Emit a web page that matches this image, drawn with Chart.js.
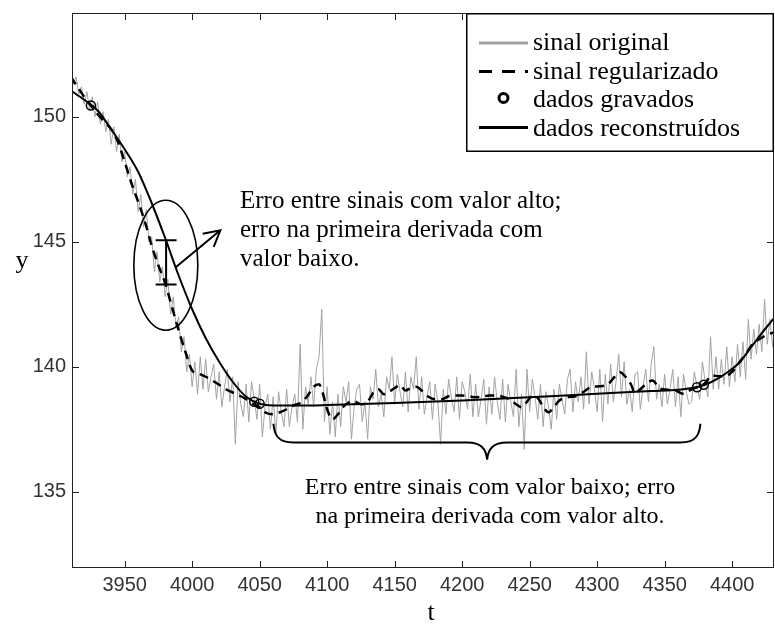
<!DOCTYPE html>
<html>
<head>
<meta charset="utf-8">
<script src="https://cdn.jsdelivr.net/npm/chart.js@4"></script>
<style>
  html, body { margin: 0; padding: 0; background: #fff; }
  canvas { display: block; }
</style>
</head>
<body>
<canvas id="chart" width="775" height="625"></canvas>
<script>
// axis ticks
const xTicks = [3950, 4000, 4050, 4100, 4150, 4200, 4250, 4300, 4350, 4400];
const yTicks = [135, 140, 145, 150];

// sinal original (sampled every 2 units of t, starting at 3910)
const origT0 = 3910;
const origStep = 2;
const origY = [
  152.5, 151.3, 151.6, 150.9, 151.2, 150.5, 151.0, 150.3, 150.8, 150.0,
  150.6, 149.7, 150.2, 149.4, 149.9, 148.9, 149.6, 148.6, 149.3, 148.2,
  148.6, 147.6, 148.0, 146.9, 147.5, 146.2, 146.9, 145.6, 146.3, 145.0,
  145.2, 143.8, 144.6, 143.4, 144.0, 142.8, 143.5, 142.1, 142.8, 141.6,
  142.0, 140.6, 141.2, 139.8, 140.5, 139.2, 140.2, 138.9, 140.4, 139.1,
  140.3, 139.0, 139.6, 140.1, 138.7, 139.8, 138.4, 139.2, 139.9, 138.6,
  139.6, 136.9, 139.4, 138.5, 138.0, 139.3, 137.8, 139.4, 138.7, 137.9,
  139.3, 137.2, 138.4, 138.9, 137.5, 138.8, 137.3, 139.0, 138.2, 137.6,
  139.1, 137.6, 138.4, 138.9, 137.8, 140.9, 137.5, 139.2, 138.5, 139.6,
  138.4, 139.9, 140.4, 142.3, 137.8, 139.2, 137.3, 138.6, 137.2, 138.9,
  137.6, 139.2, 138.6, 139.4, 137.1, 138.4, 139.1, 139.3, 137.8, 138.6,
  137.1, 139.2, 138.7, 139.9, 138.4, 138.9, 138.0, 139.6, 139.1, 140.4,
  138.5, 139.7, 139.0, 138.4, 139.8, 138.2, 139.6, 139.1, 140.4, 138.3,
  139.6, 138.1, 138.8, 139.4, 137.9, 139.3, 138.6, 136.9, 139.1, 138.1,
  139.5, 138.8, 138.2, 139.6, 137.9, 139.4, 139.0, 138.3, 139.7, 138.0,
  139.3, 138.0, 138.7, 139.5, 137.7, 139.2, 138.1, 139.6, 138.6, 137.9,
  139.5, 137.8, 139.3, 138.6, 138.0, 139.9, 137.6, 138.9, 136.7, 139.9,
  138.2, 139.5, 138.8, 137.9, 139.3, 137.6, 139.0, 138.4, 137.5, 139.1,
  137.9, 139.3, 138.7, 138.1, 139.5, 139.9, 138.2, 139.4, 138.6, 139.6,
  138.3, 140.6, 138.5, 139.8, 139.1, 138.2, 139.9, 137.8, 139.7, 138.5,
  140.1, 138.6, 139.4, 140.5, 138.8, 140.2, 138.5, 139.1, 138.2, 139.7,
  139.8, 138.3, 139.2, 139.9, 138.6, 140.1, 140.8, 138.7, 139.3, 138.4,
  139.7, 138.5, 139.1, 139.9, 138.4, 139.6, 138.0, 139.7, 139.0, 138.5,
  138.6, 139.8, 139.2, 138.7, 140.2, 139.4, 138.8, 141.2, 139.1, 140.4,
  139.1, 140.3, 139.3, 140.8, 139.2, 140.4, 139.4, 140.9, 139.6, 141.0,
  139.5, 141.9, 140.3, 141.5, 140.5, 141.7, 140.6, 142.7, 140.9, 141.9, 140.8, 141.8
];

// sinal regularizado
const regT = [
  3910, 3915, 3920, 3925, 3930, 3935, 3940, 3945, 3950, 3955,
  3960, 3965, 3970, 3975, 3980, 3985, 3990, 3995, 4000, 4005,
  4010, 4015, 4020, 4025, 4030, 4035, 4040, 4045, 4050, 4055,
  4060, 4065, 4070, 4075, 4080, 4085, 4090, 4094, 4097, 4100,
  4104, 4108, 4112, 4116, 4120, 4125, 4130, 4134, 4138, 4142,
  4146, 4150, 4154, 4158, 4162, 4166, 4170, 4175, 4180, 4185,
  4190, 4195, 4200, 4205, 4210, 4215, 4220, 4225, 4230, 4235,
  4240, 4244, 4248, 4252, 4256, 4260, 4264, 4268, 4272, 4278,
  4284, 4290, 4296, 4302, 4308, 4313, 4317, 4321, 4325, 4328,
  4332, 4336, 4341, 4346, 4352, 4358, 4364, 4370, 4375, 4380,
  4385, 4390, 4395, 4400, 4405, 4410, 4415, 4420, 4425, 4432
];
const regY = [
  151.6, 151.2, 150.8, 150.45, 150.1, 149.8, 149.5, 149.0, 148.2, 147.35,
  146.6, 145.8, 144.85, 144.05, 143.35, 142.4, 141.45, 140.6, 139.85, 139.72,
  139.6, 139.45, 139.28, 139.1, 138.97, 138.85, 138.7, 138.52, 138.38, 138.15,
  138.1, 138.18, 138.3, 138.45, 138.55, 138.8, 139.2, 139.3, 138.9, 138.3,
  137.9, 138.1, 138.4, 138.58, 138.62, 138.5, 138.6, 138.95, 139.1, 138.9,
  139.0, 139.15, 139.27, 139.05, 139.15, 139.2, 139.05, 138.8, 138.7, 138.7,
  138.82, 138.85, 138.85, 138.82, 138.78, 138.8, 138.85, 138.85, 138.8, 138.7,
  138.5, 138.38, 138.6, 138.85, 138.75, 138.4, 138.18, 138.4, 138.65, 138.78,
  138.82, 139.0, 139.2, 139.22, 139.3, 139.6, 139.78, 139.6, 139.3, 138.95,
  139.1, 139.3, 139.45, 139.15, 139.08, 139.05, 138.92, 139.1, 139.2, 139.35,
  139.65, 139.62, 139.62, 139.8, 140.15, 140.5, 140.9, 141.1, 141.25, 141.4
];

// dados reconstruidos
const recT = [3910, 3920, 3930, 3940, 3950, 3960, 3970, 3980, 3990, 4000,
  4010, 4020, 4030, 4040, 4050, 4060, 4080, 4100, 4150, 4200,
  4250, 4300, 4340, 4360, 4375, 4385, 4395, 4405, 4415, 4425, 4432];
const recY = [151.05, 150.68, 150.25, 149.5, 148.7, 147.8, 146.55, 145.15, 143.65, 142.3,
  141.15, 140.2, 139.4, 138.8, 138.52, 138.45, 138.45, 138.47, 138.55, 138.65,
  138.78, 138.92, 139.03, 139.08, 139.2, 139.4, 139.72, 140.15, 140.85, 141.55, 142.0];

// dados gravados
const savedT = [3925, 4046, 4050, 4374, 4379];
const savedY = [150.45, 138.6, 138.52, 139.18, 139.28];

const legendLabels = ['sinal original', 'sinal regularizado', 'dados gravados', 'dados reconstruídos'];
const noteHigh = ['Erro entre sinais com valor alto;', 'erro na primeira derivada com', 'valor baixo.'];
const noteLow = ['Erro entre sinais com valor baixo; erro', 'na primeira derivada com valor alto.'];

const serif = '"Liberation Serif", "Times New Roman", serif';
const sans = '"Liberation Sans", Arial, sans-serif';

const toPoints = (ts, ys) => ts.map((t, i) => ({ x: t, y: ys[i] }));
const origData = origY.map((v, i) => ({ x: origT0 + i * origStep, y: v }));

// fixed axis sizes so the plot box lands where the reference has it
function fixScale(s, size) {
  if (s.isHorizontal()) s.height = size; else s.width = size;
  s.paddingTop = 0; s.paddingBottom = 0; s.paddingLeft = 0; s.paddingRight = 0;
}

// frame, inward ticks, legend box and the annotations
const decor = {
  id: 'decor',
  afterDraw(chart) {
    const { ctx, chartArea: a, scales: { x, y } } = chart;
    const P = (t, v) => [x.getPixelForValue(t), y.getPixelForValue(v)];
    ctx.save();

    ctx.strokeStyle = '#222';
    ctx.lineWidth = 1;
    ctx.strokeRect(a.left + 0.5, a.top + 0.5, a.right - a.left - 1, a.bottom - a.top - 1);
    ctx.beginPath();
    xTicks.forEach(v => {
      const p = Math.round(x.getPixelForValue(v)) + 0.5;
      ctx.moveTo(p, a.bottom); ctx.lineTo(p, a.bottom - 7);
      ctx.moveTo(p, a.top); ctx.lineTo(p, a.top + 7);
    });
    yTicks.forEach(v => {
      const p = Math.round(y.getPixelForValue(v)) + 0.5;
      ctx.moveTo(a.left, p); ctx.lineTo(a.left + 7, p);
      ctx.moveTo(a.right, p); ctx.lineTo(a.right - 7, p);
    });
    ctx.stroke();

    // axis titles
    ctx.fillStyle = '#000';
    ctx.font = '26px ' + serif;
    ctx.textAlign = 'center';
    ctx.textBaseline = 'alphabetic';
    ctx.fillText('t', (a.left + a.right) / 2 + 8, 620);
    ctx.fillText('y', 22, 268);

    // legend
    const lx = a.right - 308, ly = a.top, lw = 308, lh = 139;
    ctx.fillStyle = '#fff';
    ctx.fillRect(lx, ly, lw, lh);
    ctx.strokeStyle = '#000';
    ctx.lineWidth = 1.5;
    ctx.strokeRect(lx + 0.75, ly + 0.75, lw - 1.5, lh - 1.5);
    const rows = [37, 65.5, 94, 122.5];
    ctx.lineWidth = 3;
    ctx.lineCap = 'butt';
    // sinal original
    ctx.strokeStyle = '#a0a0a0';
    ctx.beginPath(); ctx.moveTo(lx + 13, ly + rows[0] - 7); ctx.lineTo(lx + 62, ly + rows[0] - 7); ctx.stroke();
    // sinal regularizado
    ctx.strokeStyle = '#000';
    ctx.setLineDash([13, 10]);
    ctx.beginPath(); ctx.moveTo(lx + 13, ly + rows[1] - 7); ctx.lineTo(lx + 62, ly + rows[1] - 7); ctx.stroke();
    ctx.setLineDash([]);
    // dados gravados
    ctx.beginPath(); ctx.arc(lx + 37.5, ly + rows[2] - 9, 4.5, 0, Math.PI * 2); ctx.stroke();
    // dados reconstruidos
    ctx.beginPath(); ctx.moveTo(lx + 13, ly + rows[3] - 8); ctx.lineTo(lx + 62, ly + rows[3] - 8); ctx.stroke();
    ctx.fillStyle = '#000';
    ctx.font = '26px ' + serif;
    ctx.textAlign = 'left';
    legendLabels.forEach((s, i) => ctx.fillText(s, lx + 67, ly + rows[i]));

    // ellipse with error bar and arrow
    ctx.lineWidth = 1.6;
    const [ecx, ecy] = P(3980.5, 144.06);
    ctx.beginPath(); ctx.ellipse(ecx, ecy, 32, 65, 0, 0, Math.PI * 2); ctx.stroke();
    ctx.lineWidth = 2;
    const [bx, bTop] = P(3980.7, 145.06);
    const bBot = y.getPixelForValue(143.29);
    ctx.beginPath();
    ctx.moveTo(bx, bTop); ctx.lineTo(bx, bBot);
    ctx.moveTo(bx - 10.5, bTop); ctx.lineTo(bx + 10.5, bTop);
    ctx.moveTo(bx - 10.5, bBot); ctx.lineTo(bx + 10.5, bBot);
    ctx.stroke();
    const [ax0, ay0] = P(3987.6, 143.97);
    const [ax1, ay1] = P(4020.9, 145.46);
    const ang = Math.atan2(ay1 - ay0, ax1 - ax0);
    ctx.beginPath();
    ctx.moveTo(ax0, ay0); ctx.lineTo(ax1, ay1);
    ctx.moveTo(ax1 - 18 * Math.cos(ang - 0.5), ay1 - 18 * Math.sin(ang - 0.5));
    ctx.lineTo(ax1, ay1);
    ctx.lineTo(ax1 - 18 * Math.cos(ang + 0.5), ay1 - 18 * Math.sin(ang + 0.5));
    ctx.stroke();

    // brace
    const [L, yTop] = P(4060.2, 137.72);
    const R = x.getPixelForValue(4376.5);
    const hy = y.getPixelForValue(136.97);
    const [tipX, tipY] = P(4218.5, 136.28);
    ctx.beginPath();
    ctx.moveTo(L, yTop);
    ctx.bezierCurveTo(L + 1, hy - 6, L + 6, hy, L + 20, hy);
    ctx.lineTo(tipX - 20, hy);
    ctx.bezierCurveTo(tipX - 6, hy, tipX - 1, hy + 6, tipX, tipY);
    ctx.bezierCurveTo(tipX + 1, hy + 6, tipX + 6, hy, tipX + 20, hy);
    ctx.lineTo(R - 20, hy);
    ctx.bezierCurveTo(R - 6, hy, R - 1, hy - 6, R, yTop);
    ctx.stroke();

    // notes
    ctx.font = '25px ' + serif;
    ctx.textAlign = 'left';
    noteHigh.forEach((s, i) => ctx.fillText(s, 240, 208 + i * 29));
    ctx.font = '24px ' + serif;
    ctx.textAlign = 'center';
    noteLow.forEach((s, i) => ctx.fillText(s, 490, 494 + i * 29));
    ctx.restore();
  }
};

new Chart(document.getElementById('chart'), {
  type: 'line',
  data: {
    datasets: [
      {
        label: legendLabels[2],
        data: toPoints(savedT, savedY),
        showLine: false,
        pointRadius: 4.5,
        pointBorderWidth: 1.5,
        pointBorderColor: '#000',
        pointBackgroundColor: 'rgba(0,0,0,0)',
        order: 0
      },
      {
        label: legendLabels[3],
        data: toPoints(recT, recY),
        borderColor: '#000',
        borderWidth: 2,
        pointRadius: 0,
        cubicInterpolationMode: 'monotone',
        order: 1
      },
      {
        label: legendLabels[1],
        data: toPoints(regT, regY),
        borderColor: '#000',
        borderWidth: 2.5,
        borderDash: [9, 6],
        pointRadius: 0,
        cubicInterpolationMode: 'monotone',
        order: 2
      },
      {
        label: legendLabels[0],
        data: origData,
        borderColor: '#a3a3a3',
        borderWidth: 1,
        pointRadius: 0,
        tension: 0,
        order: 3
      }
    ]
  },
  options: {
    responsive: false,
    animation: false,
    devicePixelRatio: 1,
    layout: { autoPadding: false, padding: { top: 13, right: 1, left: 0, bottom: 0 } },
    plugins: { legend: { display: false }, tooltip: { enabled: false } },
    scales: {
      x: {
        type: 'linear',
        min: 3911,
        max: 4431,
        grid: { display: false, drawTicks: false },
        border: { display: false },
        afterBuildTicks: s => { s.ticks = xTicks.map(v => ({ value: v })); },
        afterFit: s => fixScale(s, 57),
        ticks: { font: { family: sans, size: 20 }, color: '#333', padding: 5, maxRotation: 0, autoSkip: false, callback: v => String(v) }
      },
      y: {
        type: 'linear',
        min: 131.95,
        max: 154.15,
        grid: { display: false, drawTicks: false },
        border: { display: false },
        afterBuildTicks: s => { s.ticks = yTicks.map(v => ({ value: v })); },
        afterFit: s => fixScale(s, 72),
        ticks: { font: { family: sans, size: 20 }, color: '#333', padding: 6, callback: v => String(v) }
      }
    }
  },
  plugins: [decor]
});
</script>
</body>
</html>
